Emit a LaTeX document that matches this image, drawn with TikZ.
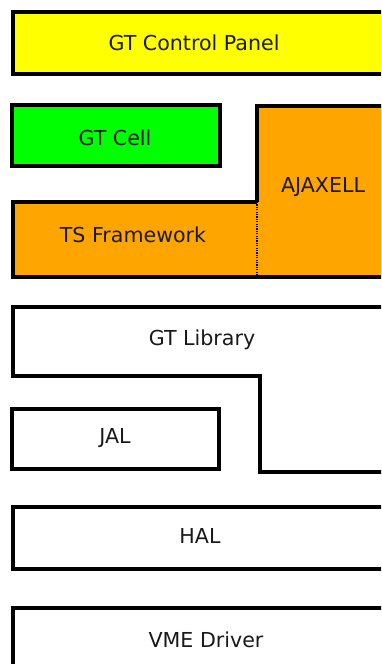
\documentclass[tikz,border=0pt]{standalone}
\usepackage{fontspec}
\setmainfont{DejaVu Sans}
\definecolor{cpyellow}{HTML}{FFFF00}
\definecolor{cellgreen}{HTML}{00FF00}
\definecolor{tsorange}{HTML}{FFA500}
\begin{document}
\begin{tikzpicture}[x=1pt,y=-1pt,
  edge/.style={draw=black, line width=3.2pt, line join=miter},
  lbl/.style={font=\fontsize{20.6}{24}\selectfont, text=black!90, inner sep=0pt}]
\useasboundingbox (0,0) rectangle (381,664);
\clip (0,0) rectangle (381,664);
% GT Control Panel
\path[edge, fill=cpyellow] (13,12) rectangle (400,74);
\node[lbl] (cp) at (194,43) {GT Control Panel};
% GT Cell
\path[edge, fill=cellgreen] (12,105) rectangle (220,166);
\node[lbl] (cell) at (115,138) {GT Cell};
% TS Framework and AJAXELL
\path[fill=tsorange] (13,202) rectangle (257,277);
\path[fill=tsorange] (257,106) rectangle (400,277);
\path[edge] (257,202) -- (13,202) -- (13,277) -- (400,277);
\path[edge] (257,202) -- (257,106) -- (400,106);
\path[draw=black, line width=2pt, dash pattern=on 1.2pt off 1.2pt] (257,202) -- (257,277);
\node[lbl] (ts) at (133,235) {TS Framework};
\node[lbl] (ajax) at (323,187) {AJAXELL};
% GT Library
\path[edge, fill=white] (400,307) -- (13,307) -- (13,376) -- (260,376) -- (260,472) -- (400,472);
\node[lbl] (lib) at (202,340) {GT Library};
% JAL
\path[edge] (12,409) rectangle (219,469);
\node[lbl] (jal) at (115,438) {JAL};
% HAL
\path[edge] (13,507) rectangle (400,569);
\node[lbl] (hal) at (200,536) {HAL};
% VME Driver
\path[edge] (13,608) rectangle (400,700);
\node[lbl] (vme) at (206,640) {VME Driver};
\end{tikzpicture}
\end{document}
